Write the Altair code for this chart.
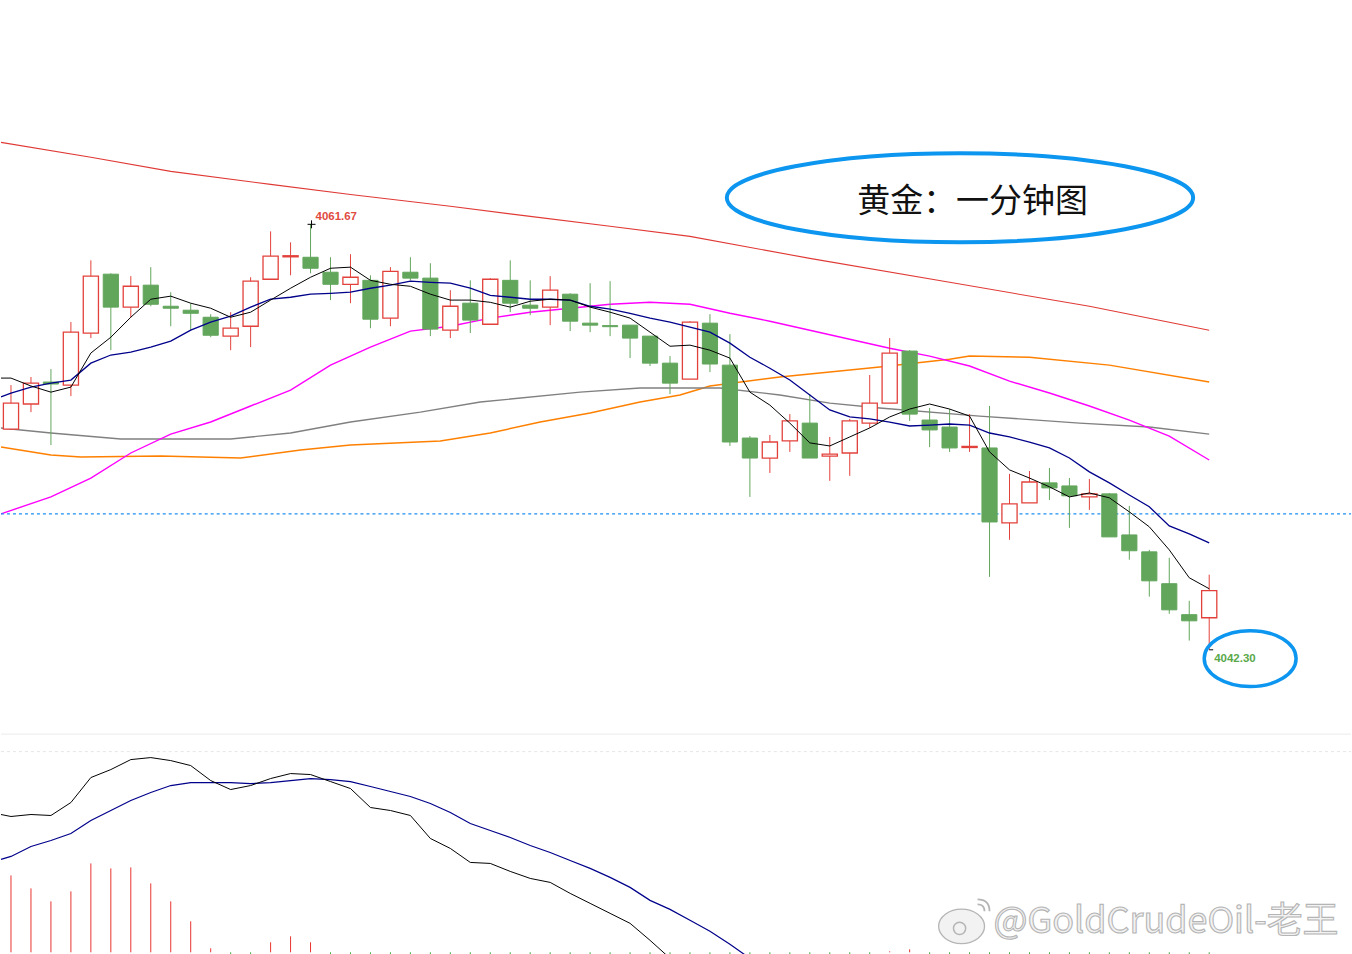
import altair as alt
import pandas as pd

# ---------------- data ----------------
idx = list(range(61))
opens = [4052.35, 4053.49, 4054.49, 4054.35, 4056.72, 4059.40, 4057.90, 4058.90, 4057.94, 4057.76,
         4057.44, 4056.58, 4057.03, 4059.17, 4060.19, 4060.17, 4059.49, 4058.94, 4059.12, 4057.40,
         4059.49, 4059.22, 4056.85, 4058.08, 4057.12, 4059.12, 4057.99, 4057.90, 4058.49, 4057.17,
         4057.06, 4057.08, 4056.58, 4055.35, 4054.62, 4057.17, 4055.26, 4051.94, 4051.03, 4051.81,
         4052.62, 4051.12, 4051.26, 4052.62, 4053.53, 4055.90, 4052.76, 4052.44, 4051.51, 4051.49,
         4048.08, 4048.99, 4049.90, 4049.76, 4049.26, 4049.40, 4047.53, 4046.76, 4045.31, 4043.90,
         4043.76]
closes = [4053.53, 4054.44, 4054.40, 4056.76, 4059.31, 4057.90, 4058.85, 4058.03, 4057.85, 4057.62,
          4056.62, 4056.94, 4059.08, 4060.22, 4060.24, 4059.67, 4058.94, 4059.26, 4057.35, 4059.53,
          4059.22, 4056.90, 4057.94, 4057.31, 4059.17, 4058.08, 4057.85, 4058.67, 4057.26, 4057.08,
          4057.01, 4056.49, 4055.35, 4054.44, 4057.22, 4055.31, 4051.76, 4051.03, 4051.76, 4052.72,
          4051.03, 4051.21, 4052.72, 4053.53, 4055.81, 4053.03, 4052.31, 4051.49, 4051.56, 4048.12,
          4048.94, 4049.94, 4049.67, 4049.31, 4049.40, 4047.44, 4046.81, 4045.44, 4044.12, 4043.62,
          4044.99]
highs = [4054.35, 4054.72, 4055.08, 4057.22, 4060.03, 4059.44, 4059.31, 4059.72, 4058.58, 4058.08,
         4057.58, 4057.67, 4059.26, 4061.35, 4060.85, 4061.67, 4060.17, 4060.31, 4059.35, 4059.72,
         4060.17, 4059.90, 4058.67, 4059.12, 4059.22, 4060.03, 4059.12, 4059.31, 4058.53, 4058.99,
         4059.08, 4057.08, 4056.58, 4055.67, 4057.26, 4057.58, 4056.67, 4052.03, 4052.08, 4053.03,
         4053.94, 4051.99, 4052.81, 4054.81, 4056.49, 4055.94, 4053.31, 4053.26, 4053.03, 4053.40,
         4050.31, 4050.44, 4050.58, 4050.12, 4050.08, 4049.44, 4048.85, 4046.85, 4046.49, 4044.53,
         4045.72]
lows = [4052.31, 4053.12, 4051.62, 4053.85, 4056.49, 4055.94, 4057.44, 4057.94, 4057.03, 4056.85,
        4056.53, 4055.94, 4056.08, 4059.17, 4059.35, 4059.44, 4058.22, 4058.08, 4056.94, 4057.03,
        4059.12, 4056.58, 4056.49, 4056.72, 4057.12, 4057.67, 4057.53, 4057.08, 4056.81, 4056.76,
        4056.58, 4055.58, 4055.22, 4053.94, 4054.62, 4054.94, 4051.58, 4049.26, 4050.35, 4051.31,
        4051.03, 4049.99, 4050.22, 4052.40, 4053.53, 4052.72, 4051.53, 4051.31, 4051.31, 4045.62,
        4047.31, 4048.99, 4049.12, 4047.85, 4048.67, 4047.44, 4046.40, 4044.72, 4043.94, 4042.72,
        4042.30]

ma_x = [-0.5] + idx
ma_black = [4054.67, 4054.67, 4054.31, 4054.03, 4054.26, 4055.81, 4056.53, 4057.44, 4058.26, 4058.40,
            4058.08, 4057.85, 4057.44, 4057.67, 4058.22, 4058.76, 4059.26, 4059.67, 4059.72, 4059.12,
            4058.94, 4058.85, 4058.49, 4058.22, 4058.22, 4058.12, 4057.90, 4058.17, 4058.26, 4058.22,
            4057.90, 4057.67, 4057.40, 4056.76, 4056.12, 4056.17, 4055.94, 4055.58, 4054.03, 4053.44,
            4052.62, 4051.72, 4051.58, 4051.99, 4052.40, 4052.90, 4053.26, 4053.49, 4053.26, 4052.94,
            4051.31, 4050.49, 4050.12, 4049.72, 4049.26, 4049.44, 4049.22, 4048.58, 4047.90, 4046.85,
            4045.58, 4045.08]
ma_blue = [4053.81, 4053.99, 4054.26, 4054.44, 4054.58, 4055.35, 4055.72, 4055.85, 4056.08, 4056.35,
           4056.85, 4057.22, 4057.49, 4057.90, 4058.26, 4058.35, 4058.49, 4058.53, 4058.58, 4058.76,
           4058.90, 4059.08, 4059.03, 4058.99, 4058.76, 4058.44, 4058.35, 4058.26, 4058.26, 4058.22,
           4057.94, 4057.81, 4057.62, 4057.40, 4057.22, 4056.99, 4056.76, 4056.26, 4055.62, 4055.12,
           4054.58, 4053.90, 4053.22, 4052.90, 4052.81, 4052.67, 4052.49, 4052.53, 4052.58, 4052.53,
           4052.17, 4051.99, 4051.76, 4051.49, 4051.03, 4050.40, 4049.90, 4049.35, 4048.81, 4047.94,
           4047.58, 4047.17]

magenta_x = [-0.5] + list(range(2, 61, 2))
magenta_v = [4048.49, 4049.26, 4050.12, 4051.26, 4052.12, 4052.67, 4053.40, 4054.12, 4055.26, 4056.08,
             4056.81, 4057.03, 4057.40, 4057.67, 4057.85, 4058.03, 4058.12, 4058.03, 4057.62, 4057.26,
             4056.85, 4056.44, 4056.03, 4055.67, 4055.22, 4054.53, 4053.99, 4053.40, 4052.76, 4052.03,
             4050.94]
gray_x = [-0.5, 2, 5.5, 11, 14, 17, 20.5, 23.5, 28.5, 31.5, 35.5, 38.5, 41, 43.5, 48.5, 53.5, 57, 60]
gray_v = [4052.40, 4052.17, 4051.90, 4051.90, 4052.17, 4052.67, 4053.12, 4053.58, 4054.03, 4054.22,
          4054.22, 4053.90, 4053.53, 4053.31, 4052.94, 4052.62, 4052.44, 4052.12]
orange_x = [-0.5, 2, 3.5, 7.5, 11.5, 14.5, 17, 21.5, 24, 26.5, 29, 31.5, 33.5, 35, 38.5, 43.5, 47, 48,
            51, 55, 60]
orange_v = [4051.53, 4051.17, 4051.08, 4051.12, 4051.03, 4051.40, 4051.62, 4051.81, 4052.17, 4052.67,
            4053.08, 4053.58, 4053.90, 4054.31, 4054.72, 4055.17, 4055.53, 4055.67, 4055.62, 4055.26,
            4054.49]
red_x = [-0.5, 4, 8, 13, 17, 22, 26, 30, 34, 40, 47, 54, 60]
red_v = [4065.40, 4064.72, 4064.08, 4063.49, 4063.03, 4062.49, 4062.03, 4061.58, 4061.12, 4060.12,
         4059.03, 4057.94, 4056.85]

level_line = 4048.49
high_label = "4061.67"
low_label = "4042.30"
title_text = "黄金：一分钟图"
watermark = "@GoldCrudeOil-老王"

# MACD
hist = [0.77, 0.64, 0.51, 0.61, 0.89, 0.84, 0.85, 0.69, 0.51, 0.31, 0.04, -0.14, -0.04, 0.10, 0.16,
        0.10, -0.04, -0.14, -0.42, -0.38, -0.38, -0.70, -0.72, -0.78, -0.66, -0.68, -0.66, -0.60,
        -0.66, -0.70, -0.72, -0.72, -0.80, -0.9, -1.0, -1.0, -1.1, -1.2, -1.2, -1.1, -1.0, -0.9, -0.8,
        -0.6, 0.01, 0.03, -0.3, -0.3, -0.3, -0.5, -0.6, -0.6, -0.6, -0.6, -0.6, -0.7, -0.7, -0.8,
        -0.9, -1.0, -1.0]
dif_x = [-0.5] + list(range(35))
dif_v = [1.38, 1.36, 1.38, 1.37, 1.50, 1.75, 1.83, 1.93, 1.95, 1.92, 1.87, 1.72, 1.63, 1.67, 1.74,
         1.79, 1.78, 1.71, 1.64, 1.45, 1.42, 1.37, 1.14, 1.04, 0.90, 0.89, 0.81, 0.74, 0.70, 0.59,
         0.49, 0.39, 0.29, 0.12, -0.06, -0.20]
dea_x = [-0.5] + list(range(39))
dea_v = [0.93, 0.96, 1.06, 1.12, 1.19, 1.32, 1.42, 1.52, 1.60, 1.67, 1.70, 1.70, 1.70, 1.69, 1.70,
         1.72, 1.74, 1.73, 1.71, 1.66, 1.61, 1.56, 1.49, 1.40, 1.29, 1.22, 1.15, 1.07, 1.00, 0.92,
         0.84, 0.75, 0.65, 0.52, 0.43, 0.32, 0.21, 0.08, -0.06, -0.20]

# ---------------- styles ----------------
RED = "#e2413b"
GREEN = "#62a65c"
W = 1352
H_MAIN = 733
H_MACD = 221
XS = alt.Scale(domain=[-0.5, 67.1], nice=False, zero=False)
YS = alt.Scale(domain=[4038.53, 4071.85], nice=False, zero=False)
MS = alt.Scale(domain=[-0.02, 2.19], nice=False, zero=False)

c = pd.DataFrame({"i": idx, "open": opens, "high": highs, "low": lows, "close": closes})
c["up"] = c["close"] >= c["open"]
c["top"] = c[["open", "close"]].max(axis=1)
c["bot"] = c[["open", "close"]].min(axis=1)
c["xa"] = c["i"] - 0.38
c["xb"] = c["i"] + 0.38

X = alt.X("x:Q", scale=XS, axis=None)
Y = alt.Y("y:Q", scale=YS, axis=None)


def line(xv, yv, color, width, dash=None):
    df = pd.DataFrame({"x": xv, "y": yv})
    kw = dict(color=color, strokeWidth=width, clip=True)
    if dash:
        kw["strokeDash"] = dash
    return alt.Chart(df).mark_line(**kw).encode(x=X, y=Y)


wicks = alt.Chart(c).mark_rule(strokeWidth=1).encode(
    x=alt.X("i:Q", scale=XS, axis=None),
    y=alt.Y("low:Q", scale=YS, axis=None),
    y2="high:Q",
    color=alt.condition("datum.up", alt.value(RED), alt.value(GREEN)),
)
up_body = alt.Chart(c).transform_filter("datum.up").mark_rect(
    fill="white", stroke=RED, strokeWidth=1.3
).encode(
    x=alt.X("xa:Q", scale=XS, axis=None), x2="xb:Q",
    y=alt.Y("bot:Q", scale=YS, axis=None), y2="top:Q",
)
dn_body = alt.Chart(c).transform_filter("!datum.up").mark_rect(
    fill=GREEN, stroke=GREEN, strokeWidth=1
).encode(
    x=alt.X("xa:Q", scale=XS, axis=None), x2="xb:Q",
    y=alt.Y("bot:Q", scale=YS, axis=None), y2="top:Q",
)

level = alt.Chart(pd.DataFrame({"y": [level_line]})).mark_rule(
    color="#1e8ff0", strokeWidth=1.1, strokeDash=[3, 3]
).encode(y=Y, x=alt.value(0), x2=alt.value(W))

big_ell = "M-1,0 C-1,-0.1053 -0.5523,-0.1906 0,-0.1906 C0.5523,-0.1906 1,-0.1053 1,0 C1,0.1053 0.5523,0.1906 0,0.1906 C-0.5523,0.1906 -1,0.1053 -1,0 Z"
small_ell = "M-1,0 C-1,-0.3362 -0.5523,-0.6087 0,-0.6087 C0.5523,-0.6087 1,-0.3362 1,0 C1,0.3362 0.5523,0.6087 0,0.6087 C-0.5523,0.6087 -1,0.3362 -1,0 Z"

ell1 = alt.Chart(pd.DataFrame({"x": [47.52], "y": [4062.88]})).mark_point(
    shape=big_ell, size=467 * 467, filled=False, color="#0d96ef", strokeWidth=4, opacity=1
).encode(x=X, y=Y)
ell2 = alt.Chart(pd.DataFrame({"x": [62.05], "y": [4041.90]})).mark_point(
    shape=small_ell, size=92 * 92, filled=False, color="#0d96ef", strokeWidth=3.5, opacity=1
).encode(x=X, y=Y)

title = alt.Chart(pd.DataFrame({"x": [48.15], "y": [4062.67], "t": [title_text]})).mark_text(
    font="Noto Sans CJK SC", fontSize=33, color="#111111", align="center", baseline="middle"
).encode(x=X, y=Y, text="t:N")

hi_txt = alt.Chart(pd.DataFrame({"x": [15.25], "y": [4062.01], "t": [high_label]})).mark_text(
    font="Liberation Sans", fontSize=11.5, fontWeight="bold", color="#e04a3f",
    align="left", baseline="middle"
).encode(x=X, y=Y, text="t:N")
lo_txt = alt.Chart(pd.DataFrame({"x": [60.25], "y": [4041.90], "t": [low_label]})).mark_text(
    font="Liberation Sans", fontSize=11.5, fontWeight="bold", color="#5aa84a",
    align="left", baseline="middle"
).encode(x=X, y=Y, text="t:N")

plus = alt.Chart(pd.DataFrame({"x": [15.05], "y": [highs[15]]})).mark_point(
    shape="M-1,0L1,0M0,-1L0,1", size=64, filled=False, color="black", strokeWidth=1, opacity=1
).encode(x=X, y=Y)
dash_lo = alt.Chart(pd.DataFrame({"x": [60.0], "y": [lows[60]]})).mark_point(
    shape="M0,0L1,0", size=64, filled=False, color="black", strokeWidth=1, opacity=1
).encode(x=X, y=Y)

main = alt.layer(
    line(red_x, red_v, "#e03a36", 1.1),
    line(orange_x, orange_v, "#ff8000", 1.5),
    line(gray_x, gray_v, "#808080", 1.4),
    line(magenta_x, magenta_v, "#ff00ff", 1.4),
    level,
    wicks, up_body, dn_body,
    line(ma_x, ma_blue, "#00008b", 1.3),
    line(ma_x, ma_black, "#000000", 1.0),
    ell1, title, ell2, hi_txt, lo_txt, plus, dash_lo,
).properties(width=W, height=H_MAIN)

# ---------------- MACD panel ----------------
MY = alt.Y("y:Q", scale=MS, axis=None)
h = pd.DataFrame({"x": idx, "y": hist})
h["pos"] = h["y"] > 0
h["z"] = 0.0
bars = alt.Chart(h).mark_rule(strokeWidth=1, clip=True).encode(
    x=X, y=MY, y2="z:Q",
    color=alt.condition("datum.pos", alt.value("#e8322f"), alt.value("#3ea83a")),
)
sep1 = alt.Chart(pd.DataFrame({"y": [2.185]})).mark_rule(color="#ebebeb", strokeWidth=1).encode(
    y=MY, x=alt.value(0), x2=alt.value(W))
sep2 = alt.Chart(pd.DataFrame({"y": [2.01]})).mark_rule(
    color="#e6e6e6", strokeWidth=1, strokeDash=[3, 3]).encode(y=MY, x=alt.value(0), x2=alt.value(W))
dif = alt.Chart(pd.DataFrame({"x": dif_x, "y": dif_v})).mark_line(
    color="#000000", strokeWidth=1, clip=True).encode(x=X, y=MY)
dea = alt.Chart(pd.DataFrame({"x": dea_x, "y": dea_v})).mark_line(
    color="#00008b", strokeWidth=1.2, clip=True).encode(x=X, y=MY)
wm = alt.Chart(pd.DataFrame({"x": [49.2], "y": [0.30], "t": [watermark]})).mark_text(
    font="Noto Sans CJK SC", fontSize=36, fill="#f2f2f2", stroke="#b5b5b5", strokeWidth=1.1,
    align="left", baseline="middle"
).encode(x=X, y=MY, text="t:N")

# weibo-style logo beside the watermark
logo_body = alt.Chart(pd.DataFrame({"x": [47.6], "y": [0.26]})).mark_point(
    shape="M-1,0 C-1,-0.4 -0.55,-0.75 0,-0.75 C0.55,-0.75 1,-0.4 1,0 C1,0.4 0.55,0.75 0,0.75 C-0.55,0.75 -1,0.4 -1,0 Z",
    size=46 * 46, filled=True, fill="#f2f2f2", stroke="#b5b5b5", strokeWidth=1.3, opacity=1
).encode(x=X, y=MY)
logo_eye = alt.Chart(pd.DataFrame({"x": [47.5], "y": [0.24]})).mark_point(
    shape="circle", size=150, filled=False, color="#b5b5b5", strokeWidth=1.5, opacity=1
).encode(x=X, y=MY)
logo_arcs = alt.Chart(pd.DataFrame({"x": [48.4, 48.4], "y": [0.41, 0.41], "s": [14 * 14, 24 * 24]})).mark_point(
    shape="M0,-1 Q1,-1 1,0", filled=False, color="#b5b5b5", strokeWidth=1.8, opacity=1
).encode(x=X, y=MY, size=alt.Size("s:Q", scale=None, legend=None))

macd = alt.layer(sep1, sep2, bars, dea, dif, logo_body, logo_eye, logo_arcs, wm).properties(
    width=W, height=H_MACD)

chart = alt.vconcat(main, macd, spacing=0).properties(
    padding=0, background="white"
).configure_view(strokeWidth=0).configure_concat(spacing=0)

chart.save("out.html", embed_options={"renderer": "svg", "actions": False})
